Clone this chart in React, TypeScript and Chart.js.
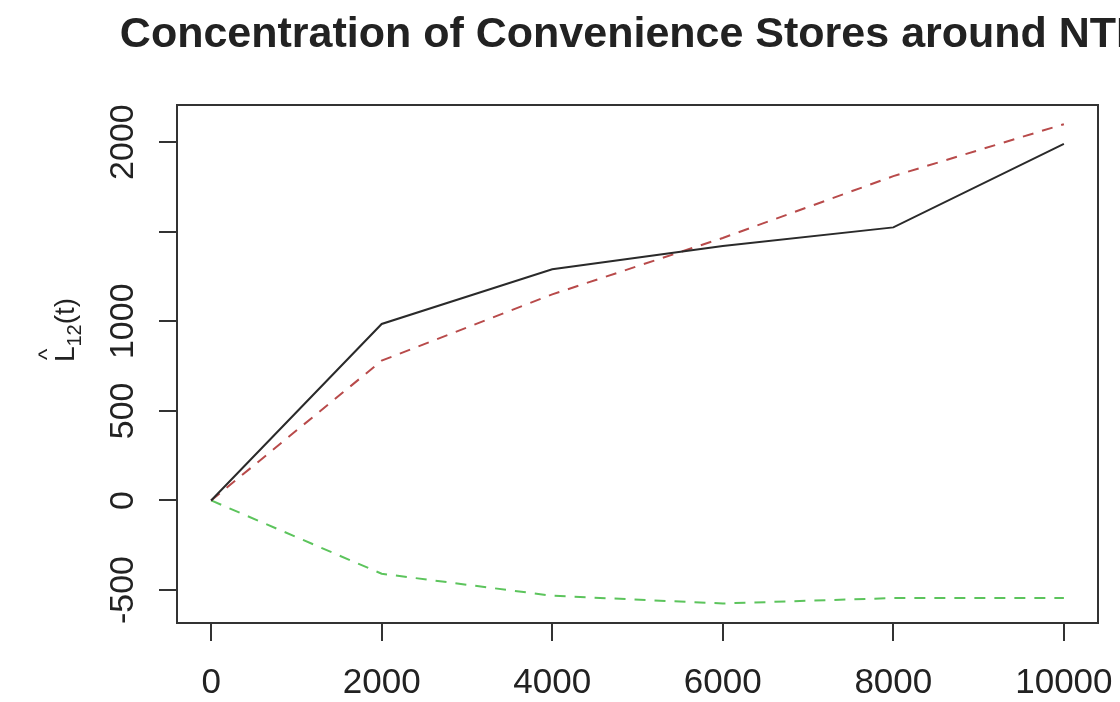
import React, { useEffect, useRef } from "react";
import { Chart, registerables } from "chart.js";

Chart.register(...registerables);

// Distances t and the estimated cross-type L function with its envelopes
const distances = [0, 2000, 4000, 6000, 8000, 10000];
const observed = [0, 985, 1290, 1420, 1524, 1990];
const upperEnvelope = [0, 780, 1150, 1465, 1810, 2100];
const lowerEnvelope = [0, -409, -532, -575, -545, -545];

const xTickValues = [0, 2000, 4000, 6000, 8000, 10000];
const xTickLabels = ["0", "2000", "4000", "6000", "8000", "10000"];
const yTickValues = [-500, 0, 500, 1000, 1500, 2000];
// 1500 keeps its tick mark but its label is dropped (it would collide)
const yTickLabels = ["-500", "0", "500", "1000", "", "2000"];

const titleText = "Concentration of Convenience Stores around NTD";

const FONT = '"Liberation Sans", Arial, sans-serif';
const AXIS_COLOR = "#333333";

const toPoints = (ys: number[]) => distances.map((x, i) => ({ x, y: ys[i] }));

const rDecorations = {
  id: "rDecorations",
  afterDraw(chart: any) {
    const { ctx, chartArea, scales } = chart;
    const xs = scales.x;
    const ys = scales.y;
    ctx.save();

    // plot frame
    ctx.strokeStyle = AXIS_COLOR;
    ctx.lineWidth = 2;
    ctx.strokeRect(chartArea.left, chartArea.top, chartArea.right - chartArea.left, chartArea.bottom - chartArea.top);

    ctx.fillStyle = "#222222";

    // title, centred over the plot region
    ctx.font = `bold 43px ${FONT}`;
    ctx.textAlign = "center";
    ctx.textBaseline = "middle";
    ctx.fillText(titleText, (chartArea.left + chartArea.right) / 2 - 4, 35);

    // x tick labels
    ctx.font = `35px ${FONT}`;
    xTickValues.forEach((v, i) => {
      ctx.fillText(xTickLabels[i], xs.getPixelForValue(v), 683);
    });

    // y tick labels, rotated parallel to the axis
    ctx.font = `34px ${FONT}`;
    yTickValues.forEach((v, i) => {
      if (!yTickLabels[i]) return;
      ctx.save();
      ctx.translate(124, ys.getPixelForValue(v));
      ctx.rotate(-Math.PI / 2);
      ctx.fillText(yTickLabels[i], 0, 0);
      ctx.restore();
    });

    // y axis title: L-hat with subscript 12, then (t)
    ctx.save();
    ctx.translate(66, 330);
    ctx.rotate(-Math.PI / 2);
    ctx.textBaseline = "alphabetic";
    ctx.textAlign = "left";
    const big = `28px ${FONT}`;
    const small = `20px ${FONT}`;
    ctx.font = big;
    const wL = ctx.measureText("L").width;
    ctx.font = small;
    const wSub = ctx.measureText("12").width;
    ctx.font = big;
    const wT = ctx.measureText("(t)").width;
    const total = wL + wSub + wT;
    let cx = -total / 2;
    const base = 8;
    ctx.font = big;
    ctx.fillText("L", cx, base);
    // hat above the L
    ctx.font = `24px ${FONT}`;
    ctx.textAlign = "center";
    ctx.fillText("^", cx + wL / 2, base - 19);
    ctx.textAlign = "left";
    cx += wL;
    ctx.font = small;
    ctx.fillText("12", cx, base + 7);
    cx += wSub;
    ctx.font = big;
    ctx.fillText("(t)", cx, base);
    ctx.restore();

    ctx.restore();
  },
};

export default function App() {
  const canvasRef = useRef<HTMLCanvasElement | null>(null);

  useEffect(() => {
    const canvas = canvasRef.current;
    if (!canvas) return;
    const chart = new Chart(canvas, {
      type: "line",
      data: {
        datasets: [
          {
            label: "observed",
            data: toPoints(observed),
            borderColor: "#2a2a2a",
            borderWidth: 2,
            pointRadius: 0,
            tension: 0,
          },
          {
            label: "upper",
            data: toPoints(upperEnvelope),
            borderColor: "#b84a4a",
            borderWidth: 2,
            borderDash: [11, 9],
            pointRadius: 0,
            tension: 0,
          },
          {
            label: "lower",
            data: toPoints(lowerEnvelope),
            borderColor: "#5cc45c",
            borderWidth: 2,
            borderDash: [11, 9],
            pointRadius: 0,
            tension: 0,
          },
        ],
      },
      options: {
        animation: false,
        responsive: false,
        maintainAspectRatio: false,
        events: [],
        layout: { padding: { left: 0, top: 105, right: 22, bottom: 0 } },
        plugins: {
          legend: { display: false },
          tooltip: { enabled: false },
          title: { display: false },
        },
        scales: {
          x: {
            type: "linear",
            min: -400,
            max: 10400,
            afterBuildTicks: (scale: any) => {
              scale.ticks = xTickValues.map((value) => ({ value }));
            },
            afterFit: (scale: any) => {
              scale.height = 79;
            },
            ticks: { display: false },
            grid: {
              drawOnChartArea: false,
              drawTicks: true,
              tickLength: 18,
              color: AXIS_COLOR,
              lineWidth: 2,
            },
            border: { display: false },
          },
          y: {
            type: "linear",
            min: -684,
            max: 2207,
            afterBuildTicks: (scale: any) => {
              scale.ticks = yTickValues.map((value) => ({ value }));
            },
            afterFit: (scale: any) => {
              scale.width = 177;
            },
            ticks: { display: false },
            grid: {
              drawOnChartArea: false,
              drawTicks: true,
              tickLength: 18,
              color: AXIS_COLOR,
              lineWidth: 2,
            },
            border: { display: false },
          },
        },
      },
      plugins: [rDecorations],
    });
    return () => chart.destroy();
  }, []);

  return (
    <div style={{ position: "fixed", left: 0, top: 0, width: 1120, height: 702, background: "#ffffff" }}>
      <canvas ref={canvasRef} width={1120} height={702} style={{ display: "block" }} />
    </div>
  );
}
